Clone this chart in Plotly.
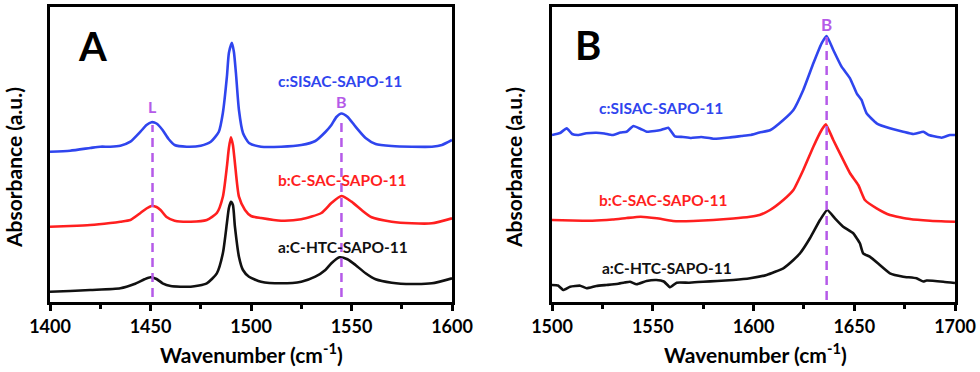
import plotly.graph_objects as go

# ---------------- Panel A data (wavenumber, absorbance a.u.) ----------------
wn_a_c = [1400, 1410, 1420, 1425, 1430, 1435, 1440, 1445, 1448, 1450.5, 1453, 1456, 1459, 1462, 1468, 1475, 1480, 1484, 1486, 1488, 1489, 1490.5, 1491.5, 1492.5, 1494, 1496, 1499, 1505, 1515, 1525, 1532, 1537, 1540, 1542.5, 1545, 1548, 1552, 1557, 1562, 1570, 1580, 1590, 1595, 1600]
abs_a_c = [1.503, 1.513, 1.54, 1.553, 1.553, 1.563, 1.603, 1.703, 1.77, 1.798, 1.785, 1.72, 1.63, 1.57, 1.553, 1.563, 1.603, 1.703, 1.89, 2.25, 2.49, 2.593, 2.50, 2.29, 1.92, 1.69, 1.59, 1.553, 1.553, 1.57, 1.61, 1.70, 1.77, 1.85, 1.885, 1.853, 1.753, 1.64, 1.58, 1.56, 1.553, 1.553, 1.57, 1.62]

wn_a_b = [1400, 1410, 1420, 1430, 1435, 1440, 1445, 1448, 1450.5, 1453, 1455, 1458, 1462, 1470, 1478, 1483, 1486, 1488, 1489, 1490, 1491, 1492, 1494, 1497, 1500, 1505, 1515, 1525, 1535, 1540, 1545, 1550, 1555, 1560, 1570, 1580, 1590, 1600]
abs_a_b = [0.753, 0.76, 0.77, 0.79, 0.803, 0.82, 0.89, 0.935, 0.96, 0.95, 0.92, 0.85, 0.813, 0.803, 0.82, 0.89, 1.053, 1.353, 1.54, 1.647, 1.57, 1.39, 1.053, 0.92, 0.86, 0.84, 0.813, 0.827, 0.89, 0.99, 1.06, 1.003, 0.92, 0.847, 0.803, 0.787, 0.787, 0.837]

wn_a_a = [1400, 1410, 1420, 1435, 1442, 1447, 1450, 1453, 1456, 1460, 1470, 1478, 1483, 1486, 1488, 1489, 1490, 1491, 1492, 1494, 1496, 1499, 1505, 1515, 1525, 1532, 1537, 1540, 1544, 1548, 1552, 1557, 1562, 1570, 1580, 1590, 1600]
abs_a_a = [0.103, 0.11, 0.12, 0.137, 0.18, 0.227, 0.247, 0.23, 0.187, 0.16, 0.153, 0.187, 0.287, 0.487, 0.787, 0.94, 1.003, 0.97, 0.753, 0.453, 0.32, 0.253, 0.203, 0.187, 0.203, 0.253, 0.32, 0.387, 0.447, 0.427, 0.37, 0.287, 0.227, 0.193, 0.18, 0.187, 0.237]

# ---------------- Panel B data ----------------
wn_b_c = [1500, 1504, 1507.3, 1510, 1513, 1517, 1522, 1526, 1530, 1534, 1537, 1540.4, 1544, 1547, 1551, 1554, 1557.7, 1561, 1565, 1569, 1574, 1580, 1588, 1594, 1598.3, 1603, 1608.2, 1614.8, 1619.8, 1624.7, 1629.7, 1633.8, 1636.3, 1639.6, 1643.7, 1647.9, 1651.2, 1653.6, 1656.1, 1661.1, 1667.7, 1674.3, 1679.3, 1684.3, 1687, 1693.4, 1697.5, 1700]
abs_b_c = [1.67, 1.69, 1.737, 1.68, 1.67, 1.687, 1.693, 1.685, 1.67, 1.695, 1.703, 1.76, 1.73, 1.703, 1.71, 1.72, 1.743, 1.657, 1.65, 1.64, 1.65, 1.633, 1.645, 1.66, 1.67, 1.695, 1.717, 1.82, 1.92, 2.12, 2.387, 2.587, 2.66, 2.52, 2.353, 2.237, 2.087, 2.02, 1.887, 1.787, 1.737, 1.703, 1.68, 1.703, 1.67, 1.643, 1.67, 1.67]

wn_b_b = [1500, 1510, 1520, 1530, 1537, 1544, 1552, 1560, 1570, 1580, 1590, 1598.3, 1603, 1608.2, 1614.8, 1619.8, 1624.7, 1629.7, 1633.8, 1635.9, 1639.6, 1643.7, 1647.9, 1652, 1655.3, 1661.1, 1667.7, 1677.6, 1687.6, 1700]
abs_b_b = [0.82, 0.815, 0.813, 0.825, 0.84, 0.853, 0.837, 0.81, 0.81, 0.82, 0.835, 0.853, 0.87, 0.92, 1.02, 1.12, 1.32, 1.553, 1.72, 1.777, 1.62, 1.453, 1.287, 1.17, 1.02, 0.937, 0.87, 0.83, 0.813, 0.803]

wn_b_a = [1500, 1503, 1505.6, 1509, 1514, 1517.2, 1522, 1527, 1532.1, 1536, 1538.7, 1542, 1546.9, 1551.8, 1555.5, 1558.6, 1561.9, 1568, 1575, 1582, 1590, 1598.3, 1606.5, 1614.8, 1619.8, 1623.1, 1628, 1633, 1636.6, 1640.4, 1644.5, 1649.5, 1652.8, 1654.4, 1657.7, 1662.7, 1667.7, 1674.3, 1680.9, 1684.3, 1685.9, 1694.2, 1700]
abs_b_a = [0.17, 0.165, 0.12, 0.153, 0.163, 0.137, 0.16, 0.17, 0.18, 0.195, 0.203, 0.177, 0.21, 0.22, 0.205, 0.147, 0.193, 0.193, 0.203, 0.21, 0.22, 0.237, 0.27, 0.337, 0.42, 0.487, 0.637, 0.82, 0.92, 0.837, 0.753, 0.687, 0.587, 0.487, 0.453, 0.37, 0.287, 0.253, 0.237, 0.205, 0.215, 0.203, 0.19]

series_names = ["c:SISAC-SAPO-11", "b:C-SAC-SAPO-11", "a:C-HTC-SAPO-11"]
xticks_a = [1400, 1450, 1500, 1550, 1600]
xticks_b = [1500, 1550, 1600, 1650, 1700]
peak_a_L = 1451
peak_a_B = 1545
peak_b_B = 1636.3

BLUE = "#2f45ee"
RED = "#ff1f1f"
BLACK = "#111111"
PURPLE = "#b55ae8"
FONT = "Lato"

fig = go.Figure()
lw = 2.6
for xs, ys, col in [(wn_a_c, abs_a_c, BLUE), (wn_a_b, abs_a_b, RED), (wn_a_a, abs_a_a, BLACK)]:
    fig.add_trace(go.Scatter(x=xs, y=ys, mode="lines", line=dict(color=col, width=lw, shape="spline", smoothing=0.6),
                             xaxis="x", yaxis="y", showlegend=False, hoverinfo="skip"))
for xs, ys, col in [(wn_b_c, abs_b_c, BLUE), (wn_b_b, abs_b_b, RED), (wn_b_a, abs_b_a, BLACK)]:
    fig.add_trace(go.Scatter(x=xs, y=ys, mode="lines", line=dict(color=col, width=lw, shape="spline", smoothing=0.4),
                             xaxis="x2", yaxis="y2", showlegend=False, hoverinfo="skip"))

ydom = [0.1882, 0.9812]
yr = [0, 2.95]
axis_common = dict(showline=True, linecolor="black", linewidth=3, mirror=True, showgrid=False, zeroline=False,
                   automargin=False)
xaxis_common = dict(axis_common, ticks="outside", ticklen=6, tickwidth=2.5, tickcolor="black",
                    tickfont=dict(family=FONT, size=18, color="black", weight="bold"),
                    minor=dict(ticks="outside", ticklen=4, tickwidth=2.5, tickcolor="black", dtick=25))

fig.update_layout(
    width=980, height=372, margin=dict(l=0, r=0, t=0, b=0, pad=0, autoexpand=False),
    paper_bgcolor="white", plot_bgcolor="white",
    xaxis=dict(xaxis_common, domain=[50/980, 452/980], range=[1400, 1600], tickvals=xticks_a, anchor="y"),
    yaxis=dict(axis_common, domain=ydom, range=yr, showticklabels=False, ticks="", anchor="x"),
    xaxis2=dict(xaxis_common, domain=[552/980, 955/980], range=[1500, 1700], tickvals=xticks_b, anchor="y2"),
    yaxis2=dict(axis_common, domain=ydom, range=yr, showticklabels=False, ticks="", anchor="x2"),
)

dash = "9px,6px"
shapes = [
    dict(type="line", xref="x", yref="y", x0=peak_a_L, x1=peak_a_L, y0=0.05, y1=1.77, line=dict(color=PURPLE, width=2.5, dash=dash)),
    dict(type="line", xref="x", yref="y", x0=peak_a_B, x1=peak_a_B, y0=0.05, y1=1.85, line=dict(color=PURPLE, width=2.5, dash=dash)),
    dict(type="line", xref="x2", yref="y2", x0=peak_b_B, x1=peak_b_B, y0=0.02, y1=2.65, line=dict(color=PURPLE, width=2.5, dash=dash)),
]
fig.update_layout(shapes=shapes)

ann = []
def txt(x, y, s, col, size, xref="x", yref="y", **kw):
    ann.append(dict(x=x, y=y, xref=xref, yref=yref, text=s, showarrow=False,
                    xanchor="center", yanchor="middle",
                    font=dict(family=FONT, size=size, color=col, weight="bold"), **kw))

# panel letters
txt(1421, 2.555, "A", "black", 40)
txt(1518, 2.565, "B", "black", 40, xref="x2", yref="y2")
# peak labels
txt(peak_a_L, 1.95, "L", PURPLE, 16)
txt(peak_a_B, 2.00, "B", PURPLE, 16)
txt(peak_b_B, 2.77, "B", PURPLE, 17, xref="x2", yref="y2")
# series labels
txt(1544.3, 2.21, series_names[0], BLUE, 15.5)
txt(1545.3, 1.22, series_names[1], RED, 15.5)
txt(1545.8, 0.55, series_names[2], BLACK, 15.5)
txt(1553.9, 1.94, series_names[0], BLUE, 15.5, xref="x2", yref="y2")
txt(1555.1, 1.02, series_names[1], RED, 15.5, xref="x2", yref="y2")
txt(1556.9, 0.343, series_names[2], BLACK, 15.5, xref="x2", yref="y2")
# axis titles
xt = "Wavenumber (cm<sup>-1</sup>)"
txt(252/980, 1 - 353/372, xt, "black", 21, xref="paper", yref="paper")
txt(755/980, 1 - 353/372, xt, "black", 21, xref="paper", yref="paper")
txt(13/980, 1 - 168/372, "Absorbance (a.u.)", "black", 21, xref="paper", yref="paper", textangle=-90)
txt(513/980, 1 - 168/372, "Absorbance (a.u.)", "black", 21, xref="paper", yref="paper", textangle=-90)
fig.update_layout(annotations=ann)

fig.write_html("out.html", config={"displayModeBar": False},
               post_script="document.body.style.margin='0';document.body.style.padding='0';document.body.style.overflow='hidden';")
